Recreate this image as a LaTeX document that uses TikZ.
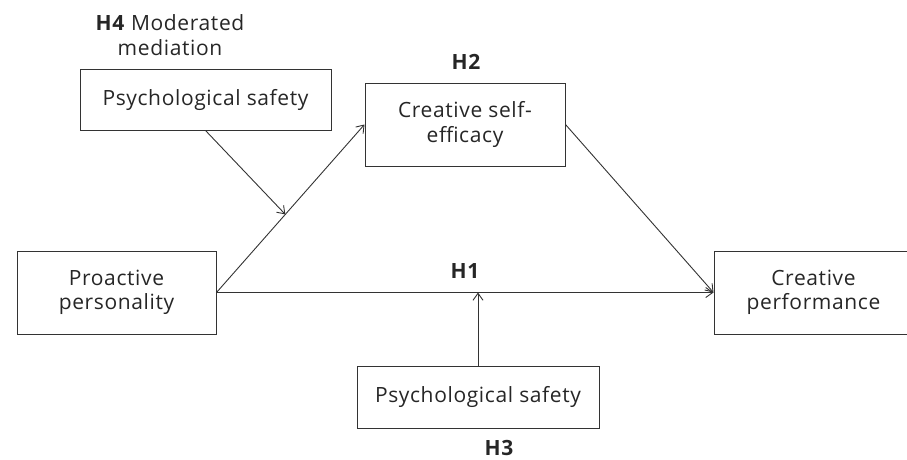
\documentclass[tikz,border=0pt]{standalone}
\usepackage{fontspec}
\setmainfont{Open Sans}[LetterSpace=3]
\usetikzlibrary{arrows.meta,calc}
\begin{document}
\begin{tikzpicture}[x=1pt,y=-1pt,
  every node/.style={font=\fontsize{21}{24.5}\selectfont, text=black!85},
  box/.style={draw=black!80, line width=1pt, inner sep=0pt, align=center},
  hyp/.style={font=\fontsize{21}{24}\selectfont\bfseries, inner sep=0pt},
  link/.style={draw=black!80, line width=0.9pt, -{Straight Barb[length=7pt,width=10pt]}}]
  \useasboundingbox (0,0) rectangle (907,459);
  % variables
  \node[box, minimum width=251pt, minimum height=61pt] (ps1) at (205.5,99.5) {Psychological safety};
  \node[box, minimum width=200pt, minimum height=83pt] (cse) at (465,124.5) {Creative self-\\efficacy};
  \node[box, minimum width=199pt, minimum height=83pt] (pp) at (116.5,292.5) {Proactive\\personality};
  \node[box, minimum width=199pt, minimum height=83pt] (cp) at (813.5,292.5) {Creative\\performance};
  \node[box, minimum width=242pt, minimum height=62pt] (ps2) at (478,397) {Psychological safety};
  % hypothesis labels
  \node[align=center, inner sep=0pt] (h4) at (170,35) {\textbf{H4} Moderated\\mediation};
  \node[hyp] (h2) at (466,62) {H2};
  \node[hyp] (h1) at (465,271) {H1};
  \node[hyp] (h3) at (499,448) {H3};
  % paths
  \coordinate (mid) at ($(pp.east)!0.465!(cse.west)$);
  \coordinate (hit) at (ps2.north |- pp.east);
  \draw[link] (pp.east) -- (cse.west);
  \draw[link] (cse.east) -- (cp.west);
  \draw[link] (pp.east) -- (cp.west);
  \draw[link] (ps2.north) -- (hit);
  \draw[link] (ps1.south) -- (mid);
\end{tikzpicture}
\end{document}
